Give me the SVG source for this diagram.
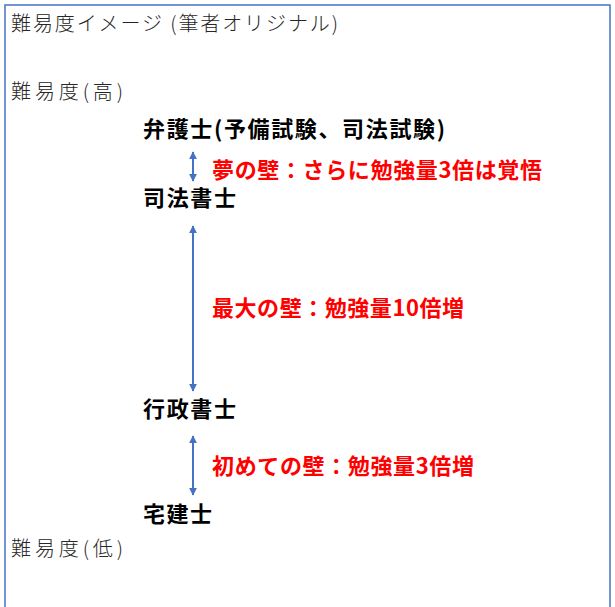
<svg xmlns="http://www.w3.org/2000/svg" width="615" height="607" viewBox="0 0 615 607">
  <style>
    .lbl { font-family: "Noto Sans CJK JP", "Noto Sans", sans-serif; font-size: 20px; fill: #262626; font-weight: 300; }
    .node { font-family: "Noto Sans CJK JP", "Noto Sans", sans-serif; font-size: 22px; fill: #000000; font-weight: 700; }
    .wall { font-family: "Noto Sans CJK JP", "Noto Sans", sans-serif; font-size: 22px; fill: #FF0000; font-weight: 700; }
    .conn { stroke: #4472C4; stroke-width: 2; fill: none; marker-start: url(#ah); marker-end: url(#ah); }
  </style>
  <defs>
    <marker id="ah" viewBox="0 0 10 10" refX="9" refY="5" markerWidth="4" markerHeight="4" orient="auto-start-reverse" markerUnits="strokeWidth">
      <path d="M0,0 L10,5 L0,10 z" fill="#4472C4"/>
    </marker>
  </defs>
  <rect x="0" y="0" width="615" height="607" fill="#ffffff"/>
  <path d="M5,607 V5 H610 V607" fill="none" stroke="#4472C4" stroke-width="1.5"/>

  <g id="title"><text class="lbl" x="11" y="31" textLength="327" lengthAdjust="spacing">難易度イメージ (筆者オリジナル)</text></g>
  <g id="label-high"><text class="lbl" x="11" y="99" textLength="112" lengthAdjust="spacing">難易度(高)</text></g>
  <g id="label-low"><text class="lbl" x="11" y="556" textLength="112" lengthAdjust="spacing">難易度(低)</text></g>

  <g id="node-bengoshi"><text class="node" x="143" y="137" textLength="302" lengthAdjust="spacing">弁護士(予備試験、司法試験)</text></g>
  <g id="node-shihoshoshi"><text class="node" x="143" y="206" textLength="93" lengthAdjust="spacing">司法書士</text></g>
  <g id="node-gyoseishoshi"><text class="node" x="143" y="417" textLength="93" lengthAdjust="spacing">行政書士</text></g>
  <g id="node-takken"><text class="node" x="143" y="522" textLength="69" lengthAdjust="spacing">宅建士</text></g>

  <g id="connectors">
    <line class="conn" x1="193" y1="152" x2="193" y2="181"/>
    <line class="conn" x1="193" y1="226" x2="193" y2="391"/>
    <line class="conn" x1="193" y1="436" x2="193" y2="495"/>
  </g>

  <g id="wall-labels">
    <text class="wall" x="212" y="178" textLength="330" lengthAdjust="spacing">夢の壁：さらに勉強量3倍は覚悟</text>
    <text class="wall" x="212" y="316" textLength="252" lengthAdjust="spacing">最大の壁：勉強量10倍増</text>
    <text class="wall" x="212" y="474" textLength="262" lengthAdjust="spacing">初めての壁：勉強量3倍増</text>
  </g>
</svg>
